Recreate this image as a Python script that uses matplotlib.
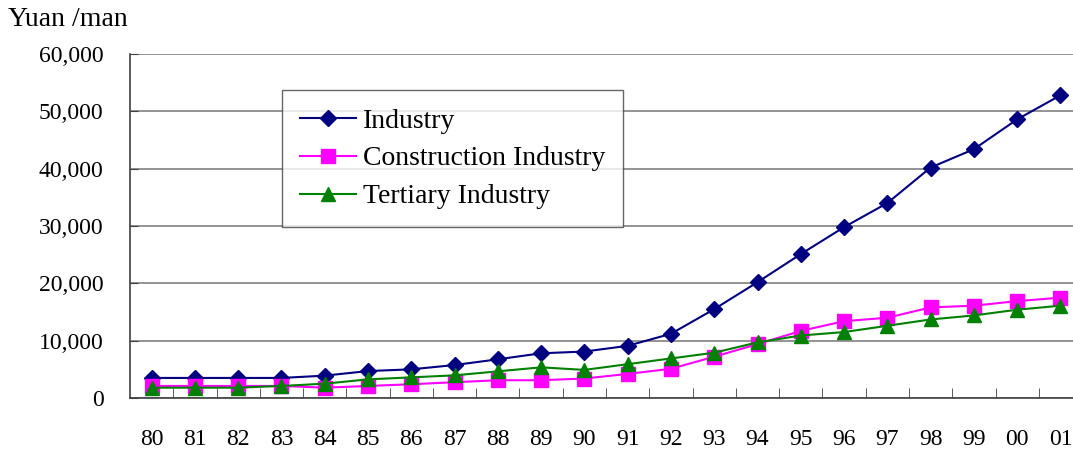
import matplotlib
matplotlib.use("Agg")
import matplotlib.pyplot as plt
from matplotlib.ticker import FuncFormatter

years = ["80", "81", "82", "83", "84", "85", "86", "87", "88", "89", "90",
         "91", "92", "93", "94", "95", "96", "97", "98", "99", "00", "01"]
industry = [3500, 3500, 3500, 3500, 3900, 4700, 5000, 5750, 6750, 7800, 8100,
            9100, 11200, 15500, 20200, 25100, 29800, 34000, 40200, 43400, 48600, 52800]
construction = [2100, 2100, 2100, 2100, 1800, 2100, 2400, 2750, 3100, 3100, 3400,
                4200, 5100, 7200, 9400, 11700, 13400, 14000, 15800, 16100, 16900, 17500]
tertiary = [1800, 1800, 1800, 2100, 2500, 3250, 3600, 3950, 4650, 5350, 4900,
            5900, 6900, 7900, 9700, 10900, 11500, 12600, 13700, 14400, 15400, 16100]

plt.rcParams["font.family"] = ["Liberation Serif", "DejaVu Serif"]

fig = plt.figure(figsize=(10.73, 4.54), dpi=100)
ax = fig.add_axes([130 / 1073, 1 - 398 / 454, 1 - 130 / 1073, 344 / 454])

x = list(range(len(years)))
ax.plot(x, industry, color="#000080", lw=1.5, marker="D", ms=8, label="Industry")
ax.plot(x, construction, color="#FF00FF", lw=1.5, marker="s", ms=10, label="Construction Industry")
ax.plot(x, tertiary, color="#008000", lw=1.5, marker="^", ms=10, label="Tertiary Industry")

ax.set_xlim(-0.5, 21.29)
ax.set_ylim(0, 60000)
ax.set_yticks(range(0, 60001, 10000))
ax.yaxis.set_major_formatter(FuncFormatter(lambda v, p: f"{int(v):,}"))
ax.grid(axis="y", color="#808080", lw=1.2)
ax.set_axisbelow(True)

ax.set_xticks(x)
ax.set_xticklabels(years)
ax.set_xticks([i + 0.5 for i in x[:-1]], minor=True)
ax.tick_params(axis="x", which="major", length=0, pad=22, labelsize=17)
ax.tick_params(axis="x", which="minor", direction="in", length=7, color="#404040")
ax.tick_params(axis="y", direction="in", length=6, pad=19, labelsize=17, color="#404040")

for s in ["top", "right"]:
    ax.spines[s].set_visible(False)
for s in ["left", "bottom"]:
    ax.spines[s].set_color("#404040")
    ax.spines[s].set_linewidth(1.2)

leg = ax.legend(loc="upper left", bbox_to_anchor=((282 - 130) / 943, (398 - 90) / 344),
                fontsize=20, frameon=True, fancybox=False, handlelength=2.0,
                handletextpad=0.25, borderpad=0.65, labelspacing=0.45, borderaxespad=0)
leg.get_frame().set_edgecolor("#404040")
leg.get_frame().set_linewidth(1.0)

fig.text(8 / 1073, 1 - 20 / 454, "Yuan /man", fontsize=20, va="center", ha="left")

fig.savefig("out.png", dpi=100)
